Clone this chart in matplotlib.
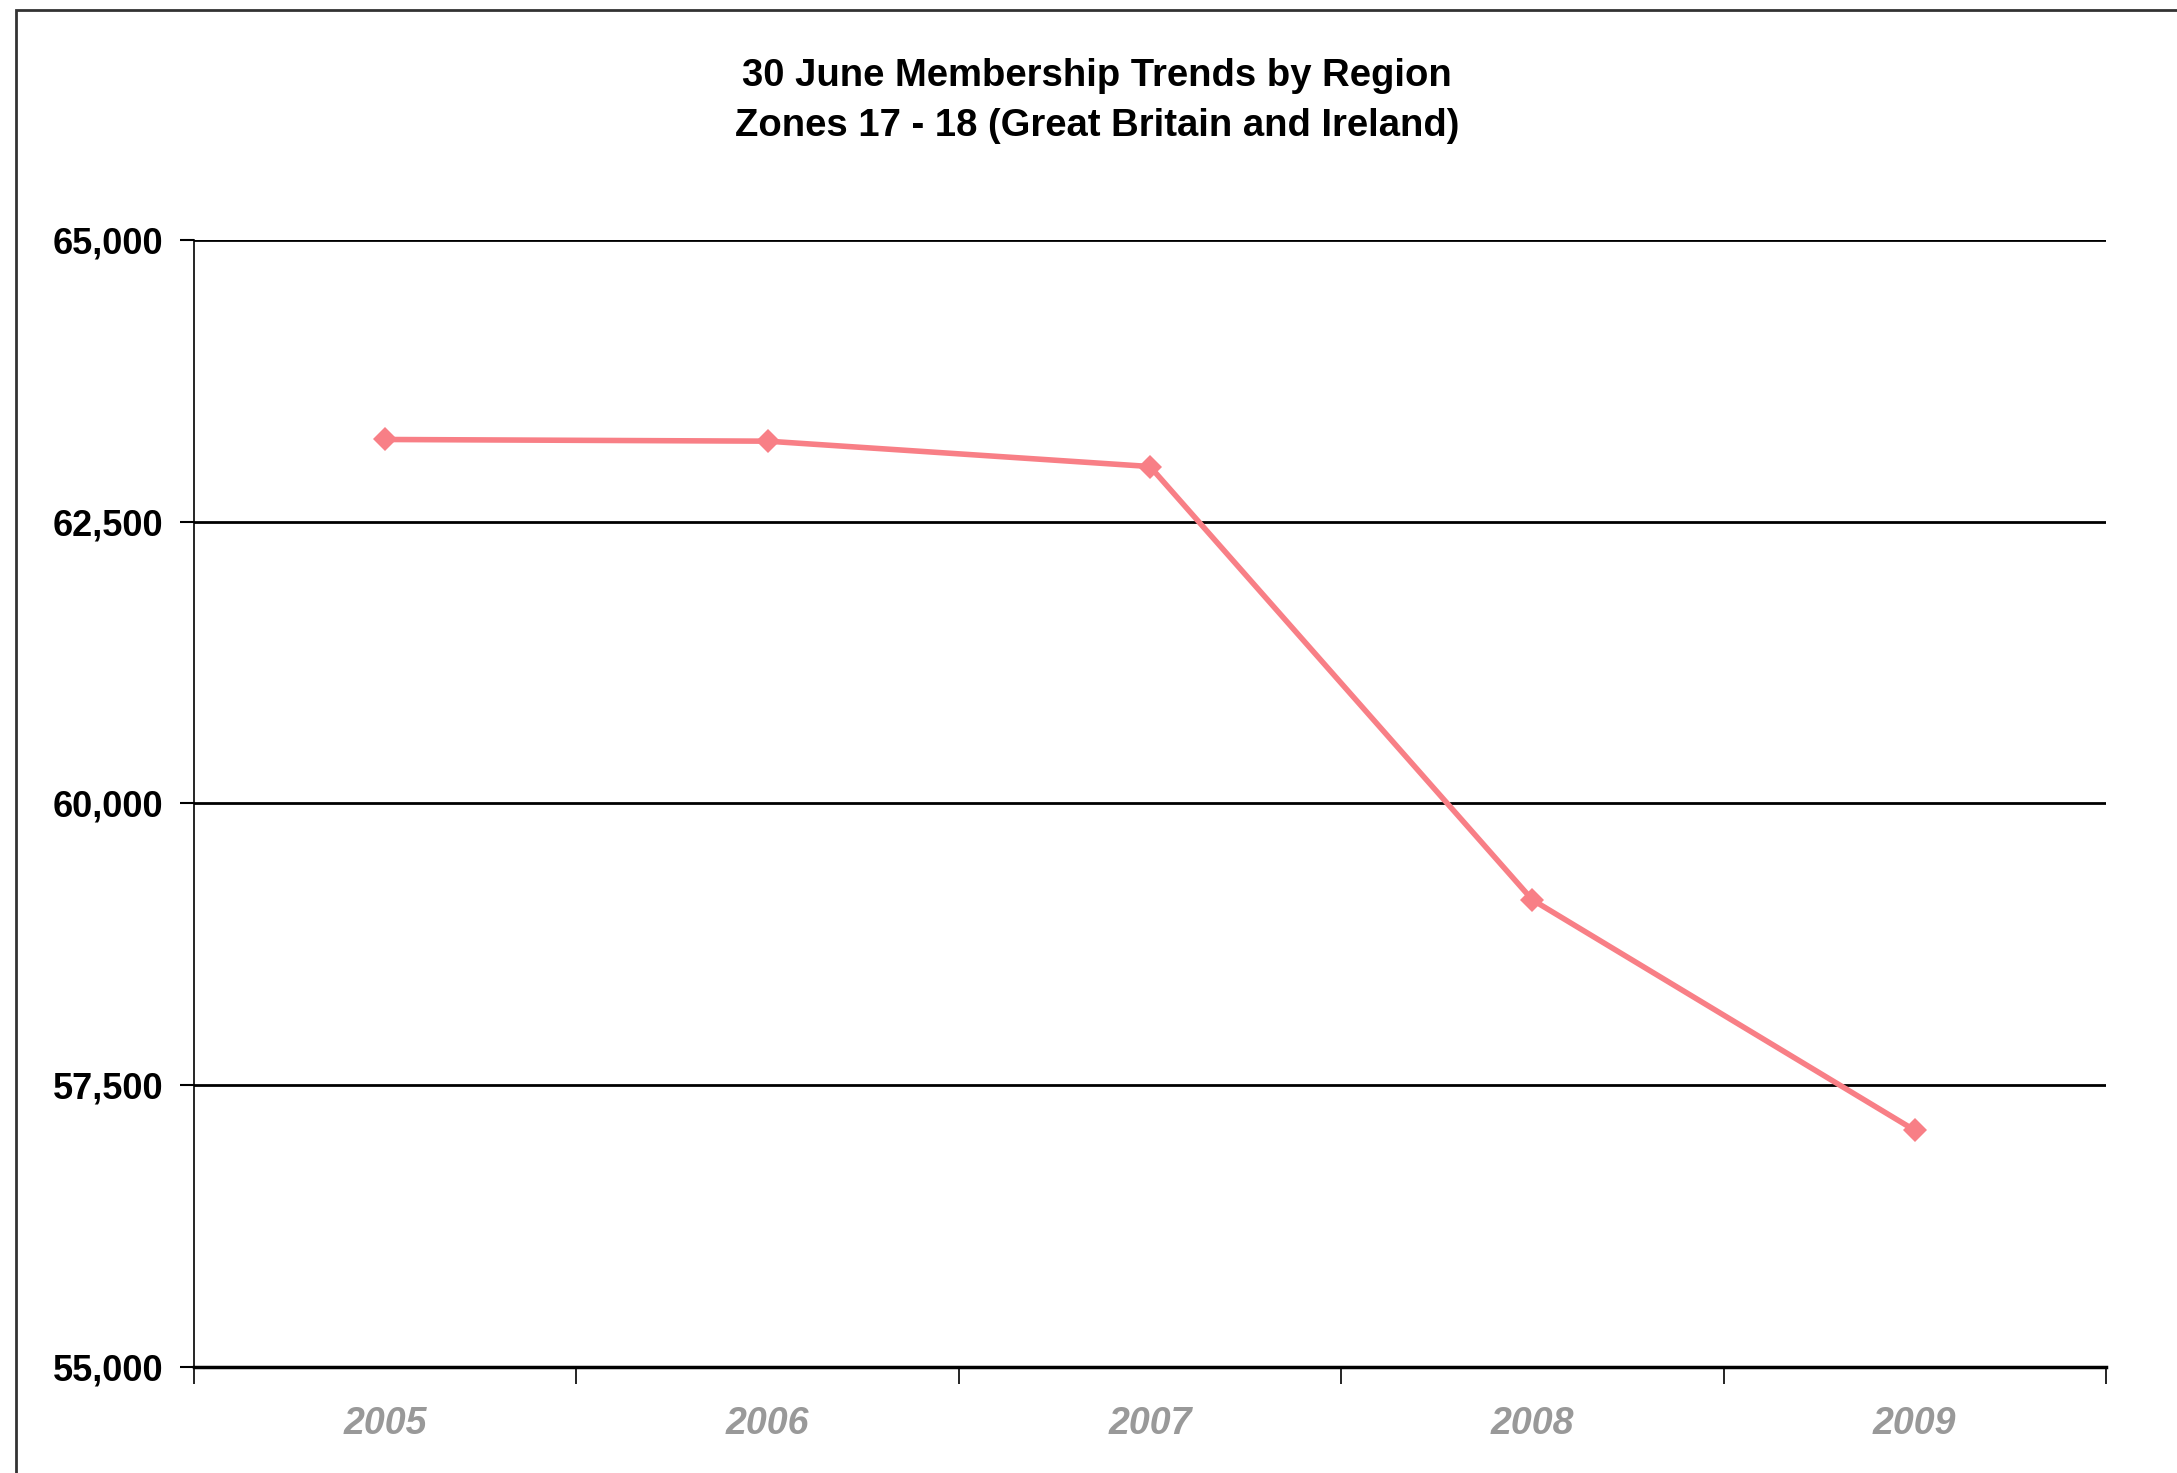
from matplotlib import pyplot as plt
from matplotlib.patches import Rectangle
from matplotlib.ticker import FuncFormatter, FixedLocator

years = ['2005', '2006', '2007', '2008', '2009']
members = [63230, 63215, 62990, 59145, 57100]

plt.rcParams['font.family'] = ['Liberation Sans', 'DejaVu Sans']

fig = plt.figure(figsize=(21.77, 14.73), dpi=100)
W, H = 2177, 1473
# axes box in pixels: left 194, right 2106, top 240, bottom 1367
ax = fig.add_axes([194 / W, 1 - 1367 / H, (2106 - 194) / W, (1367 - 240) / H])

# outer chart frame (runs off right and bottom edge)
fig.patches.append(Rectangle((16 / W, -0.05), 1.2, 1 - 10 / H + 0.05,
                             transform=fig.transFigure, fill=False,
                             edgecolor='#333333', linewidth=2))

x = [i + 0.5 for i in range(len(years))]
ax.plot(x, members, color='#F87F86', linewidth=4, marker='D', markersize=12.5,
        markeredgewidth=0, zorder=3)

ax.set_xlim(0, len(years))
ax.set_ylim(55000, 65000)
ax.set_yticks([55000, 57500, 60000, 62500, 65000])
ax.yaxis.set_major_formatter(FuncFormatter(lambda v, p: f'{int(v):,}'))
ax.grid(axis='y', color='black', linewidth=2)
ax.set_axisbelow(True)

ax.xaxis.set_major_locator(FixedLocator(range(len(years) + 1)))
ax.xaxis.set_minor_locator(FixedLocator(x))
ax.set_xticklabels([])
ax.set_xticklabels(years, minor=True)
ax.tick_params(axis='x', which='major', direction='out', length=12, width=1.2, color='black')
ax.tick_params(axis='x', which='minor', length=0, pad=28)
for t in ax.get_xticklabels(minor=True):
    t.set_fontsize(27)
    t.set_fontweight('bold')
    t.set_fontstyle('italic')
    t.set_color('#999999')
ax.tick_params(axis='y', direction='out', length=10, width=1.5, pad=12, labelsize=26)
for t in ax.get_yticklabels():
    t.set_fontweight('bold')

for s in ['top', 'right']:
    ax.spines[s].set_visible(False)
ax.spines['left'].set_linewidth(1.2)
ax.spines['bottom'].set_linewidth(2.5)

fig.text(1097 / W, 1 - 76 / H, '30 June Membership Trends by Region',
         ha='center', va='center', fontsize=27.5, fontweight='bold')
fig.text(1097 / W, 1 - 126 / H, 'Zones 17 - 18 (Great Britain and Ireland)',
         ha='center', va='center', fontsize=27.5, fontweight='bold')

plt.savefig('out.png', dpi=100)
